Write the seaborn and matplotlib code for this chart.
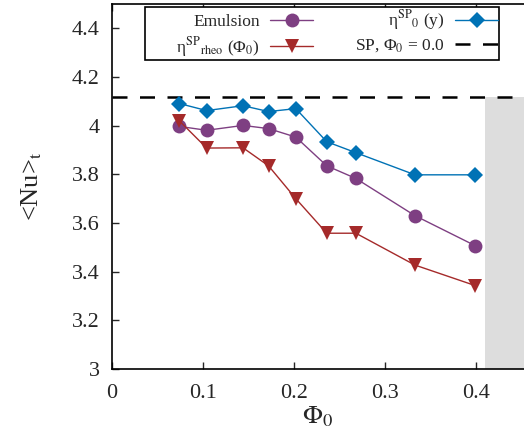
import matplotlib
matplotlib.use("Agg")
import matplotlib.pyplot as plt
import matplotlib.ticker as mticker
import seaborn as sns
import pandas as pd

phi = [0.074, 0.104, 0.144, 0.172, 0.202, 0.236, 0.268, 0.333, 0.399]
nu_emulsion = [3.997, 3.981, 4.001, 3.988, 3.953, 3.835, 3.783, 3.630, 3.507]
nu_eta0 = [4.091, 4.062, 4.082, 4.058, 4.070, 3.934, 3.889, 3.798, 3.798]
nu_rheo = [4.020, 3.908, 3.909, 3.835, 3.700, 3.558, 3.558, 3.427, 3.343]
sp_value = 4.117
shade_start = 0.41

sns.set_theme(style="ticks")
plt.rcParams['font.family'] = ['Liberation Serif', 'DejaVu Serif']
plt.rcParams['mathtext.fontset'] = 'stix'

fig = plt.figure(figsize=(5.24, 4.44), dpi=100)
ax = fig.add_axes([112/524, 1-369/444, 1-112/524, (369-4)/444])

c_em = '#7e3f82'
c_rheo = '#a52a2a'
c_eta = '#0072b5'

ax.axvspan(shade_start, 0.5, ymin=0, ymax=(sp_value-3)/1.5, color='#dddddd', lw=0, zorder=0)

df = pd.DataFrame({'phi': phi, 'em': nu_emulsion, 'eta': nu_eta0, 'rheo': nu_rheo})
sns.lineplot(data=df, x='phi', y='em', ax=ax, color=c_em, marker='o', markersize=10,
             markeredgewidth=0, lw=1, label='Emulsion', zorder=3)
sns.lineplot(data=df, x='phi', y='rheo', ax=ax, color=c_rheo, marker='v', markersize=10.5,
             markeredgewidth=0, lw=1, label='       ' + r'η$^{\mathrm{SP}}{}_{\mathrm{rheo}}$ (Φ$_0$)', zorder=3)
sns.lineplot(data=df, x='phi', y='eta', ax=ax, color=c_eta, marker='D', markersize=8,
             markeredgewidth=0, lw=1, label=r'η$^{\mathrm{SP}}{}_{0}$ (y)', zorder=3)
ax.axhline(sp_value, color='black', lw=1.8, dashes=(6, 5), label=r'SP, Φ$_0$ = 0.0', zorder=2)

ax.set_xlim(0, (524-112)/910)
ax.set_ylim(3, 4.5)
ax.set_xticks([0, 0.1, 0.2, 0.3, 0.4])
ax.set_yticks([3, 3.2, 3.4, 3.6, 3.8, 4.0, 4.2, 4.4])
ax.xaxis.set_major_formatter(mticker.FormatStrFormatter('%g'))
ax.yaxis.set_major_formatter(mticker.FormatStrFormatter('%g'))
ax.tick_params(direction='in', length=5, width=1, labelsize=16, top=True, right=False, pad=9)
ax.tick_params(axis='x', pad=11)
for s in ['left', 'bottom', 'top']:
    ax.spines[s].set_linewidth(1.2)
    ax.spines[s].set_color('black')
ax.spines['right'].set_visible(False)

ax.set_xlabel(r'$\Phi_0$', fontsize=19, labelpad=1)
ax.set_ylabel(r'<Nu>$_\mathrm{t}$', fontsize=19, labelpad=20)

h, l = ax.get_legend_handles_labels()
leg = ax.legend(h, l, ncol=2, loc='upper center', bbox_to_anchor=(0.51, 1.0),
                markerfirst=False, fontsize=12.5, frameon=True, fancybox=False,
                edgecolor='black', framealpha=1, handlelength=2.5, columnspacing=2.4,
                borderpad=0.05, labelspacing=0.3, handletextpad=0.6, borderaxespad=0.2)
leg.get_frame().set_linewidth(1.2)
for t in leg.get_texts():
    t.set_ha('right')

fig.savefig('out.png', dpi=100)
